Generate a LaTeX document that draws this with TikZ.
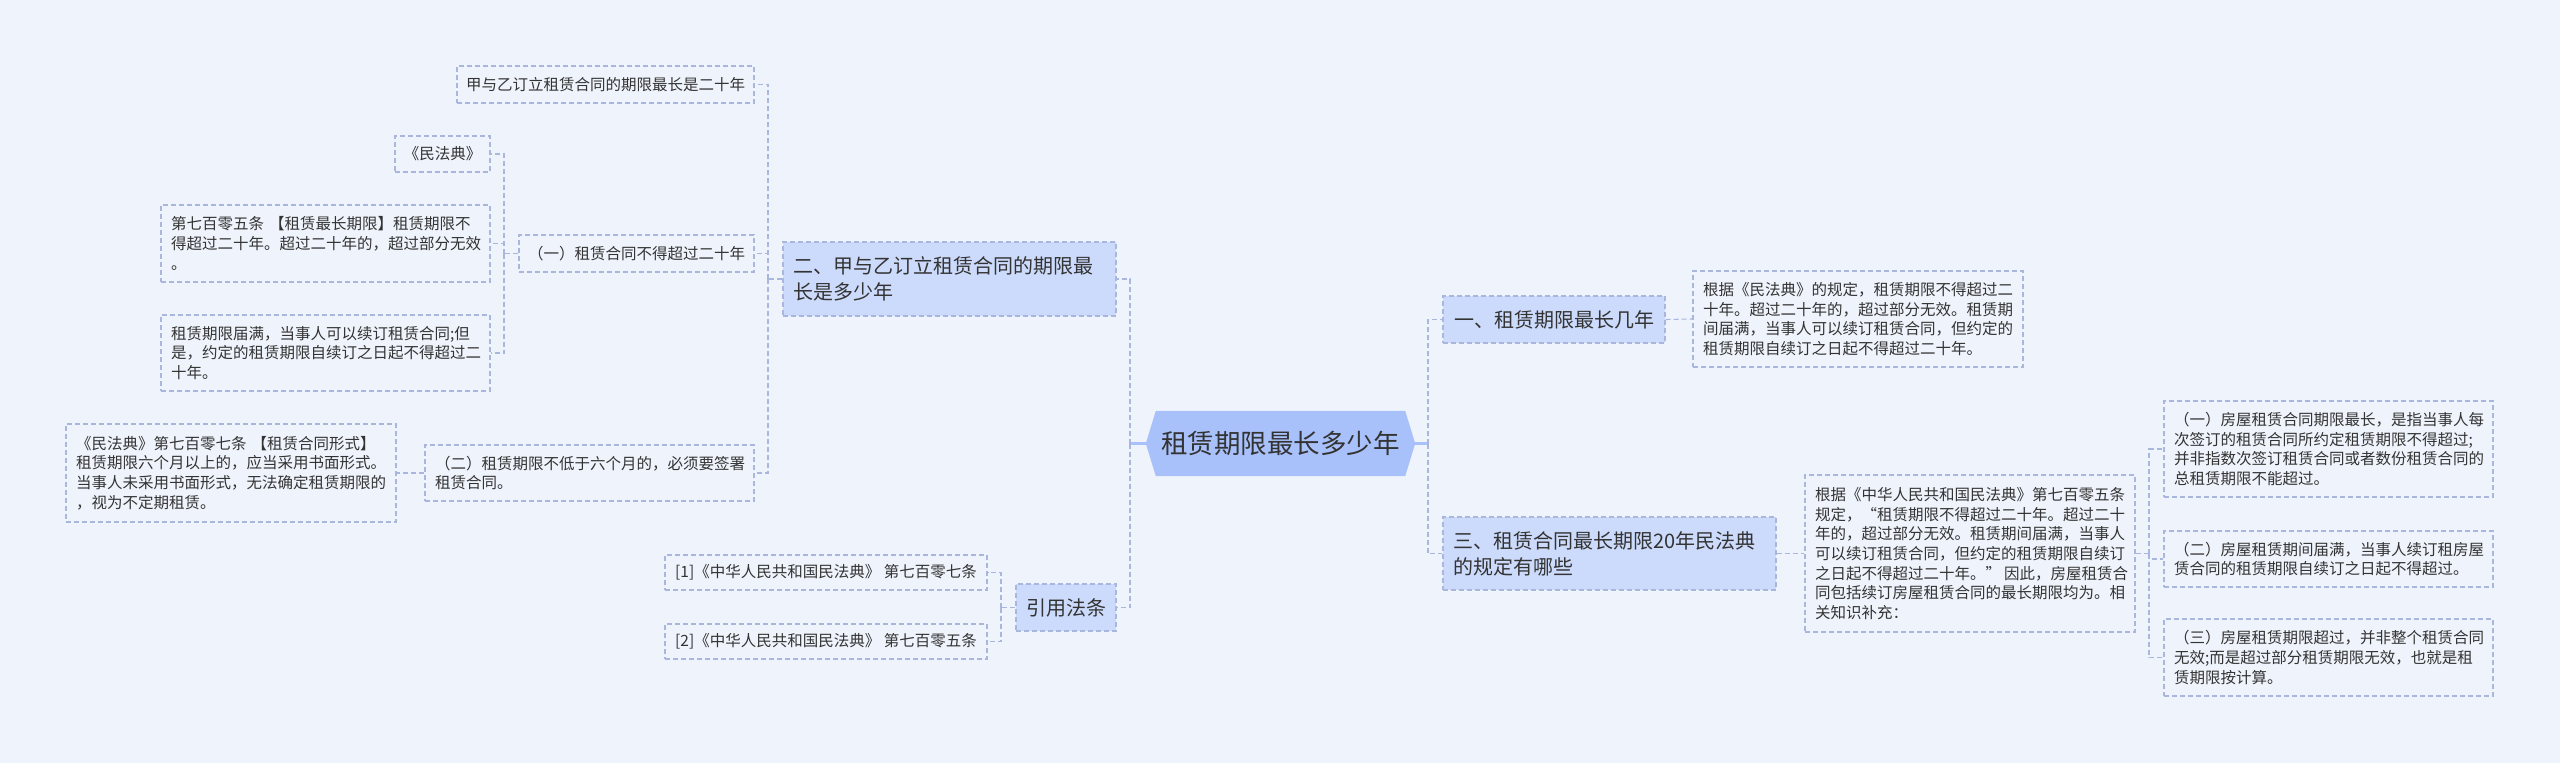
\documentclass[tikz,border=0pt]{standalone}
\usepackage{fontspec}
\setmainfont{Noto Sans CJK SC}
\usetikzlibrary{backgrounds}
\definecolor{bgc}{HTML}{EFF4FC}
\definecolor{linec}{HTML}{A9B6DE}
\definecolor{boxc}{HTML}{CCDBFB}
\definecolor{rootc}{HTML}{A9C1FA}
\definecolor{txtc}{HTML}{333333}
\begin{document}
\begin{tikzpicture}[x=1pt,y=-1pt,
  leaf/.style={draw=linec, dash pattern=on 5pt off 3pt, line width=1.1pt, text=txtc,
    font=\fontsize{15.5}{19.6}\selectfont, align=left, inner xsep=10pt, inner ysep=0pt},
  lone/.style={leaf, inner xsep=0pt},
  lvl/.style={leaf, fill=boxc, font=\fontsize{20}{26}\selectfont},
  rootnode/.style={text=txtc, font=\fontsize{26.5}{30}\selectfont, inner sep=0pt,
    minimum width=269pt, minimum height=65pt},
  conn/.style={draw=linec, dash pattern=on 5pt off 3pt, line width=1.1pt},
  rootln/.style={draw=rootc, line width=2.6pt}]
\useasboundingbox (0,0) rectangle (2560,763);

% root
\node[rootnode] (root) at (1280.5,443.5) {租赁期限最长多少年};

% level 1
\node[lvl, text width=313pt, minimum height=74pt] (b2) at (949.5,279) {二、甲与乙订立租赁合同的期限最\\长是多少年};
\node[lvl, inner xsep=0pt, minimum width=100pt, minimum height=47pt] (b4) at (1066,607.5) {引用法条};
\node[lvl, inner xsep=0pt, minimum width=222pt, minimum height=47pt] (b1) at (1554,319.5) {一、租赁期限最长几年};
\node[lvl, text width=313pt, minimum height=73pt] (b3) at (1609.5,553.5) {三、租赁合同最长期限20年民法典\\的规定有哪些};

% left leaves
\node[lone, minimum width=297pt, minimum height=37pt] (a1) at (605.5,84.5) {甲与乙订立租赁合同的期限最长是二十年};
\node[lone, minimum width=235pt, minimum height=37pt] (a2) at (636.5,253.5) {（一）租赁合同不得超过二十年};
\node[lone, minimum width=95pt, minimum height=36pt] (a3) at (442.5,154) {《民法典》};
\node[leaf, text width=309pt, minimum height=77pt] (a4) at (325.5,243.5) {第七百零五条 【租赁最长期限】租赁期限不\\得超过二十年。超过二十年的，超过部分无效\\。};
\node[leaf, text width=309pt, minimum height=76pt] (a5) at (325.5,353) {租赁期限届满，当事人可以续订租赁合同;但\\是，约定的租赁期限自续订之日起不得超过二\\十年。};
\node[leaf, text width=309pt, minimum height=56pt] (a6) at (589.5,473) {（二）租赁期限不低于六个月的，必须要签署\\租赁合同。};
\node[leaf, text width=310pt, minimum height=98pt] (a7) at (231,473) {《民法典》第七百零七条 【租赁合同形式】\\租赁期限六个月以上的，应当采用书面形式。\\当事人未采用书面形式，无法确定租赁期限的\\，视为不定期租赁。};
\node[lone, minimum width=322pt, minimum height=35pt] (a8) at (826,572.5) {[1]《中华人民共和国民法典》 第七百零七条};
\node[lone, minimum width=322pt, minimum height=35pt] (a9) at (826,641.5) {[2]《中华人民共和国民法典》 第七百零五条};

% right leaves
\node[leaf, text width=310pt, minimum height=96pt] (c1) at (1858,319) {根据《民法典》的规定，租赁期限不得超过二\\十年。超过二十年的，超过部分无效。租赁期\\间届满，当事人可以续订租赁合同，但约定的\\租赁期限自续订之日起不得超过二十年。};
\node[leaf, text width=310pt, minimum height=157pt] (c3) at (1970,553.5) {根据《中华人民共和国民法典》第七百零五条\\规定，“租赁期限不得超过二十年。超过二十\\年的，超过部分无效。租赁期间届满，当事人\\可以续订租赁合同，但约定的租赁期限自续订\\\mbox{之日起不得超过二十年。”\hspace{3pt}因此，房屋租赁合}\\同包括续订房屋租赁合同的最长期限均为。相\\关知识补充：};
\node[leaf, text width=309pt, minimum height=96pt] (d1) at (2328.5,449) {（一）房屋租赁合同期限最长，是指当事人每\\次签订的租赁合同所约定租赁期限不得超过;\\并非指数次签订租赁合同或者数份租赁合同的\\总租赁期限不能超过。};
\node[leaf, text width=309pt, minimum height=56pt] (d2) at (2328.5,559) {（二）房屋租赁期间届满，当事人续订租房屋\\赁合同的租赁期限自续订之日起不得超过。};
\node[leaf, text width=309pt, minimum height=77pt] (d3) at (2328.5,657.5) {（三）房屋租赁期限超过，并非整个租赁合同\\无效;而是超过部分租赁期限无效，也就是租\\赁期限按计算。};

% junctions
\coordinate (jl) at (1130,443.5);
\coordinate (jr) at (1428,443.5);
\coordinate (j2) at (768,279);
\coordinate (j3) at (504,253.5);
\coordinate (j4) at (1001,607.5);
\coordinate (j5) at (2149,553.5);

\begin{scope}[on background layer]
  \fill[bgc] (0,0) rectangle (2560,763);
  \fill[rootc] (root.west) -- ([xshift=10pt]root.north west) -- ([xshift=-10pt]root.north east)
    -- (root.east) -- ([xshift=-10pt]root.south east) -- ([xshift=10pt]root.south west) -- cycle;
\end{scope}

% root connectors
\draw[rootln] (root.west) -- (jl);
\draw[rootln] (root.east) -- (jr);
\draw[conn] (jl) |- (b2.east);
\draw[conn] (jl) |- (b4.east);
\draw[conn] (jr) |- (b1.west);
\draw[conn] (jr) |- (b3.west);

% left subtree
\draw[conn] (b2.west) -- (j2);
\draw[conn] (j2) |- (a1.east);
\draw[conn] (j2) |- (a2.east);
\draw[conn] (j2) |- (a6.east);
\draw[conn] (a2.west) -- (j3);
\draw[conn] (j3) |- (a3.east);
\draw[conn] (j3) |- (a4.east);
\draw[conn] (j3) |- (a5.east);
\draw[conn] (a6.west) -- (a7.east);
\draw[conn] (b4.west) -- (j4);
\draw[conn] (j4) |- (a8.east);
\draw[conn] (j4) |- (a9.east);

% right subtree
\draw[conn] (b1.east) -- (c1.west);
\draw[conn] (b3.east) -- (c3.west);
\draw[conn] (c3.east) -- (j5);
\draw[conn] (j5) |- (d1.west);
\draw[conn] (j5) |- (d2.west);
\draw[conn] (j5) |- (d3.west);
\end{tikzpicture}
\end{document}
